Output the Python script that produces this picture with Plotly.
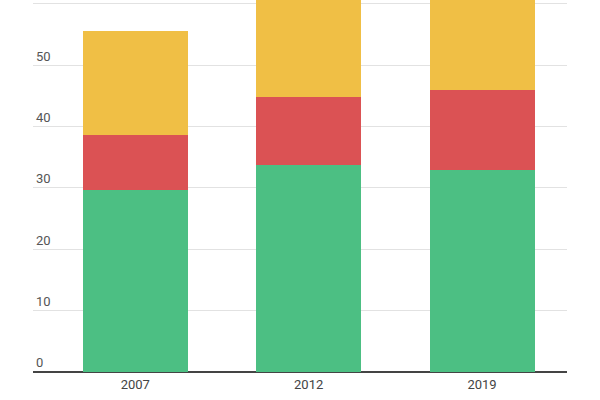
"""
Stacked bar chart: three years, three segments each.
"""

import plotly.graph_objects as go

years = ["2007", "2012", "2019"]

green_values = [29.6, 33.7, 33.0]
red_values = [9.1, 11.1, 12.9]
yellow_values = [16.9, 21.2, 20.1]

y_ticks = [0, 10, 20, 30, 40, 50, 60]

GREEN = "#4CBF83"
RED = "#DB5254"
YELLOW = "#F0BF45"
TEXT_GRAY = "#555555"

fig = go.Figure()

for values, color in [(green_values, GREEN), (red_values, RED), (yellow_values, YELLOW)]:
    fig.add_trace(go.Bar(
        x=years,
        y=values,
        marker=dict(color=color, line=dict(width=0)),
        width=0.606,
        hoverinfo="skip",
    ))

# top of the chart is cut off, as in the original crop
fig.update_layout(
    barmode="stack",
    showlegend=False,
    width=600,
    height=400,
    margin=dict(l=33, r=33, t=0, b=28),
    plot_bgcolor="white",
    paper_bgcolor="white",
    font=dict(family="Roboto", size=13, color=TEXT_GRAY),
    xaxis=dict(
        range=[-0.59, 2.49],
        showgrid=False,
        showline=False,
        ticks="",
        ticklabelstandoff=3,
        tickfont=dict(size=13, color="#444444"),
    ),
    yaxis=dict(
        range=[0, 60.65],
        tickvals=y_ticks,
        ticklabelposition="inside top",
        showgrid=True,
        gridcolor="#E2E2E2",
        gridwidth=1,
        zeroline=True,
        zerolinecolor="#444444",
        zerolinewidth=2,
        showline=False,
        ticks="",
        tickfont=dict(size=13, color=TEXT_GRAY),
    ),
)

# drop the default body margin so the figure sits at the page corner
fig.write_html(
    "out.html",
    config={"displayModeBar": False},
    post_script="document.body.style.margin = '0';",
)
